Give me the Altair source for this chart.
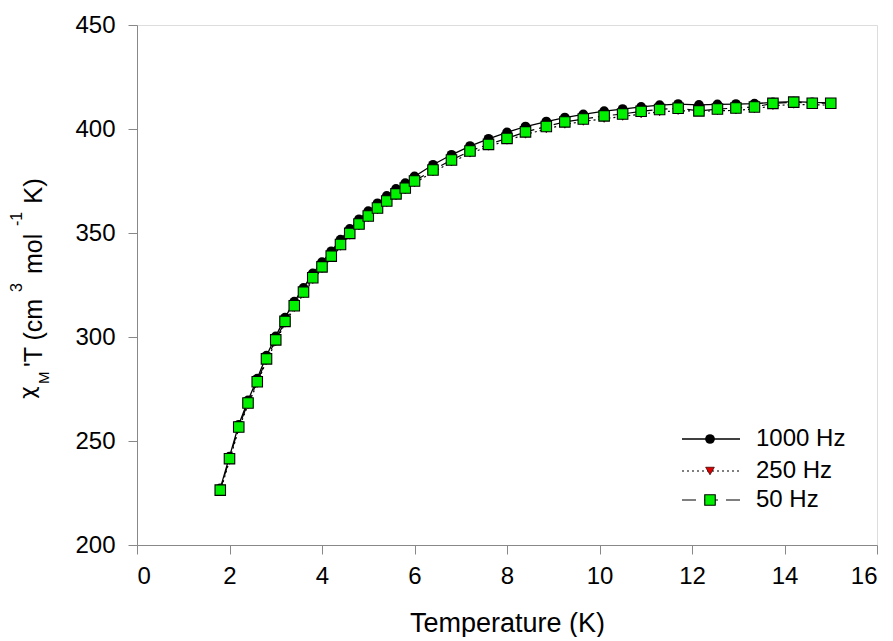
import altair as alt
import pandas as pd

# ---- data ----
temps = [1.8, 2.0, 2.2, 2.4, 2.6, 2.8, 3.0, 3.2, 3.4, 3.6, 3.8, 4.0, 4.2, 4.4, 4.6,
         4.8, 5.0, 5.2, 5.4, 5.6, 5.8, 6.0, 6.4, 6.8, 7.2, 7.6, 8.0, 8.4, 8.85, 9.25,
         9.65, 10.1, 10.5, 10.9, 11.3, 11.7, 12.15, 12.55, 12.95, 13.35, 13.75, 14.2,
         14.6, 15.0]

chi_1000 = [227.2, 242.5, 257.8, 269.5, 280.0, 291.0, 300.3, 309.3, 317.0, 323.6,
            330.6, 336.0, 341.2, 346.8, 352.0, 356.6, 360.5, 364.3, 367.8, 371.2,
            374.0, 377.2, 382.8, 387.6, 391.8, 395.3, 398.4, 401.2, 403.6, 405.5,
            407.0, 408.6, 409.6, 410.6, 411.5, 412.0, 411.6, 411.8, 412.0, 412.2,
            412.8, 413.2, 412.8, 412.6]

chi_250 = [225.6, 240.6, 255.8, 267.4, 277.6, 288.6, 297.6, 306.5, 314.0, 320.6,
           327.5, 332.8, 337.9, 343.5, 348.8, 353.3, 357.3, 361.1, 364.5, 367.8,
           370.6, 374.0, 379.3, 384.0, 388.3, 391.6, 394.5, 397.4, 400.0, 402.2,
           403.6, 405.0, 406.0, 407.2, 408.2, 408.8, 408.6, 408.7, 409.0, 409.6,
           411.2, 411.8, 411.6, 411.5]

chi_50 = [226.4, 241.5, 256.7, 268.3, 278.5, 289.5, 298.6, 307.5, 315.0, 321.6,
          328.5, 333.7, 338.9, 344.5, 349.8, 354.3, 358.2, 362.0, 365.4, 368.8,
          371.6, 375.0, 380.3, 385.1, 389.4, 392.6, 395.5, 398.6, 401.2, 403.4,
          404.8, 406.3, 407.2, 408.5, 409.4, 410.0, 408.7, 409.6, 410.1, 410.6,
          412.3, 412.9, 412.4, 412.4]

series_labels = ["1000 Hz", "250 Hz", "50 Hz"]
x_ticks = [0, 2, 4, 6, 8, 10, 12, 14, 16]
y_ticks = [200, 250, 300, 350, 400, 450]

FONT = "Liberation Sans"
W, H = 740, 520

xs = alt.Scale(domain=[0, 16], nice=False, zero=False)
ys = alt.Scale(domain=[200, 450], nice=False, zero=False)

x_enc = alt.X("T:Q", scale=xs, axis=alt.Axis(
    title="Temperature (K)", values=x_ticks, format="d", grid=False,
    tickSize=9, labelPadding=10, titlePadding=22, titleFontSize=27,
    titleFontWeight="normal", labelFontSize=24))
y_enc = alt.Y("v:Q", scale=ys, axis=alt.Axis(
    title=None, values=y_ticks, format="d", grid=False,
    tickSize=9, labelPadding=13, labelFontSize=24))


def df_of(vals):
    return pd.DataFrame({"T": temps, "v": vals})


d1000 = df_of(chi_1000)
d250 = df_of(chi_250)
d50 = df_of(chi_50)

line1000 = alt.Chart(d1000).mark_line(color="black", strokeWidth=1.3).encode(x=x_enc, y=y_enc)
pts1000 = alt.Chart(d1000).mark_point(shape="circle", filled=True, size=95, color="black",
                                      opacity=1).encode(x="T:Q", y="v:Q")
line250 = alt.Chart(d250).mark_line(color="black", strokeWidth=1.2, strokeDash=[2, 3]).encode(x="T:Q", y="v:Q")
pts250 = alt.Chart(d250).mark_point(shape="triangle-down", filled=True, size=75, fill="#e00000",
                                    stroke="#400000", strokeWidth=0.8, opacity=1).encode(x="T:Q", y="v:Q")
line50 = alt.Chart(d50).mark_line(color="black", strokeWidth=1.2, strokeDash=[10, 5]).encode(x="T:Q", y="v:Q")
pts50 = alt.Chart(d50).mark_point(shape="square", filled=True, size=110, fill="#00f000",
                                  stroke="black", strokeWidth=1.1, opacity=1).encode(x="T:Q", y="v:Q")

one = pd.DataFrame({"a": [0]})

# ---- legend (drawn manually, top-right inside plot) ----
leg_y = [414, 446, 475]
leg_layers = []
leg_layers.append(alt.Chart(one).mark_rule(color="black", strokeWidth=1.3).encode(
    x=alt.value(545), x2=alt.value(603), y=alt.value(leg_y[0])))
leg_layers.append(alt.Chart(one).mark_rule(color="black", strokeWidth=1.2, strokeDash=[2, 3]).encode(
    x=alt.value(545), x2=alt.value(603), y=alt.value(leg_y[1])))
leg_layers.append(alt.Chart(one).mark_rule(color="black", strokeWidth=1.2, strokeDash=[14, 8]).encode(
    x=alt.value(545), x2=alt.value(603), y=alt.value(leg_y[2])))
leg_layers.append(alt.Chart(one).mark_point(shape="circle", filled=True, size=95, color="black",
                                            opacity=1).encode(x=alt.value(573), y=alt.value(leg_y[0])))
leg_layers.append(alt.Chart(one).mark_point(shape="triangle-down", filled=True, size=75, fill="#e00000",
                                            stroke="#400000", strokeWidth=0.8, opacity=1).encode(
    x=alt.value(573), y=alt.value(leg_y[1])))
leg_layers.append(alt.Chart(one).mark_point(shape="square", filled=True, size=110, fill="#00f000",
                                            stroke="black", strokeWidth=1.1, opacity=1).encode(
    x=alt.value(573), y=alt.value(leg_y[2])))
for lab, yy in zip(series_labels, leg_y):
    leg_layers.append(alt.Chart(pd.DataFrame({"t": [lab]})).mark_text(
        align="left", baseline="middle", fontSize=24, font=FONT, color="black").encode(
        text="t:N", x=alt.value(619), y=alt.value(yy)))

# ---- y-axis title pieces (with sub/superscripts) ----
title_pieces = [
    ("χ", 22, "DejaVu Sans", -102, 374),
    ("M", 15, FONT, -88, 359),
    ("'T (cm", 25, FONT, -95, 342),
    ("3", 16, FONT, -115, 267),
    ("mol", 25, FONT, -95, 249),
    ("-1", 16, FONT, -115, 201),
    ("K)", 26, FONT, -95, 179),
]
title_layers = []
for txt, fs, fnt, xv, yv in title_pieces:
    title_layers.append(alt.Chart(pd.DataFrame({"t": [txt]})).mark_text(
        align="left", baseline="alphabetic", angle=270, fontSize=fs, font=fnt,
        color="black").encode(text="t:N", x=alt.value(xv), y=alt.value(yv)))

chart = alt.layer(
    line1000, line250, line50, pts1000, pts250, pts50, *leg_layers, *title_layers
).properties(
    width=W, height=H,
    autosize=alt.AutoSizeParams(type="none"),
    padding={"left": 129, "top": 17, "right": 8, "bottom": 92},
).configure_view(
    stroke="#222222", strokeWidth=1.5
).configure_axis(
    domainColor="#222222", domainWidth=1.5, tickColor="#222222", tickWidth=1.5,
    labelColor="black", titleColor="black", labelFont=FONT, titleFont=FONT,
).configure(background="white")

chart.save("out.html", embed_options={"renderer": "svg", "actions": False})
